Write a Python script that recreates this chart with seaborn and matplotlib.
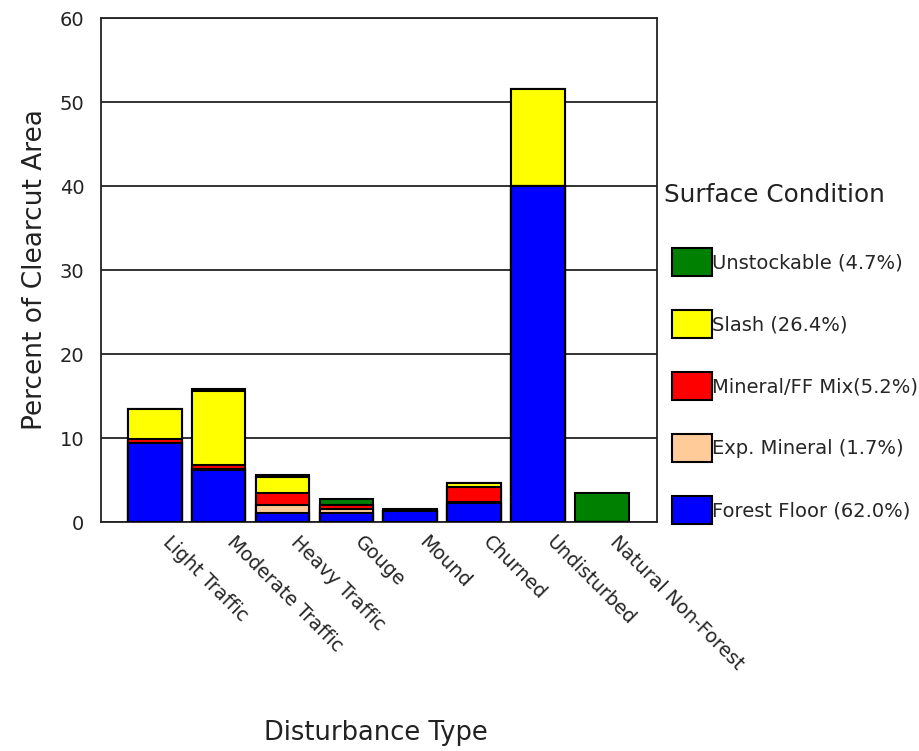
import numpy as np
import pandas as pd
import matplotlib.pyplot as plt
import matplotlib.transforms as mtransforms
import seaborn as sns
from matplotlib.patches import Patch

categories = ['Light Traffic', 'Moderate Traffic', 'Heavy Traffic', 'Gouge',
              'Mound', 'Churned', 'Undisturbed', 'Natural Non-Forest']

# layers from bottom to top
forest_floor = [9.4, 6.25, 1.04, 1.1, 1.35, 2.3, 40.05, 0.0]
exp_mineral = [0.0, 0.1, 0.95, 0.4, 0.0, 0.05, 0.0, 0.0]
mineral_ff = [0.48, 0.45, 1.43, 0.48, 0.0, 1.78, 0.0, 0.0]
slash = [3.54, 8.8, 1.97, 0.0, 0.0, 0.47, 11.45, 0.0]
unstockable = [0.0, 0.25, 0.2, 0.71, 0.15, 0.0, 0.0, 3.5]

layer_names = ['Forest Floor (62.0%)', 'Exp. Mineral (1.7%)', 'Mineral/FF Mix(5.2%)',
               'Slash (26.4%)', 'Unstockable (4.7%)']
layer_colors = ['#0000FF', '#FFCC99', '#FF0000', '#FFFF00', '#008000']

df = pd.DataFrame({
    'Disturbance': categories,
    layer_names[0]: forest_floor,
    layer_names[1]: exp_mineral,
    layer_names[2]: mineral_ff,
    layer_names[3]: slash,
    layer_names[4]: unstockable,
})
cum = df[layer_names].cumsum(axis=1)

sns.set_style('white')
plt.rcParams['font.family'] = ['DejaVu Sans']

fig = plt.figure(figsize=(9.19, 7.51), dpi=100)
ax = fig.add_axes([101 / 919, 1 - 522 / 751, 556 / 919, 504 / 751])

# draw cumulative tops first, then lower layers over them
for name, color in zip(layer_names[::-1], layer_colors[::-1]):
    sns.barplot(x=df['Disturbance'], y=cum[name], color=color, saturation=1,
                width=0.84, edgecolor='black', linewidth=1.5, ax=ax, zorder=3)

ax.set_xlim(-0.84, 7.86)
ax.set_ylim(0, 60)
ax.set_yticks(range(0, 61, 10))
ax.yaxis.grid(True, color='#222222', linewidth=1.3)
ax.set_axisbelow(True)
for s in ax.spines.values():
    s.set_color('#222222')
    s.set_linewidth(1.3)
ax.tick_params(axis='y', labelsize=14, length=0, pad=12, colors='#222222')
ax.tick_params(axis='x', length=0, pad=12)
ax.set_xticks(range(len(categories)))
ax.set_xticklabels(categories, rotation=-45, ha='left', va='top',
                   rotation_mode='anchor', fontsize=13.8)
shift = mtransforms.ScaledTranslation(18 / 100, 6 / 100, fig.dpi_scale_trans)
for lbl in ax.get_xticklabels():
    lbl.set_transform(lbl.get_transform() + shift)
ax.set_xlabel('')
ax.set_ylabel('Percent of Clearcut Area', fontsize=19, labelpad=8, color='#222222')
fig.text(376 / 919, 1 - 733 / 751, 'Disturbance Type', fontsize=18.5,
         ha='center', va='center', color='#222222')

fig.text(664 / 919, 1 - 195 / 751, 'Surface Condition', fontsize=17.8,
         ha='left', va='center', color='#222222')
handles = [Patch(facecolor=c, edgecolor='black', linewidth=1.5)
           for c in layer_colors[::-1]]
leg = fig.legend(handles, layer_names[::-1], loc='upper left',
                 bbox_to_anchor=(672 / 919, 1 - 248 / 751), frameon=False,
                 fontsize=14, handlelength=2.04, handleheight=1.84,
                 handletextpad=0.0, labelspacing=1.75, borderpad=0,
                 borderaxespad=0)

plt.savefig('out.png', dpi=100)
